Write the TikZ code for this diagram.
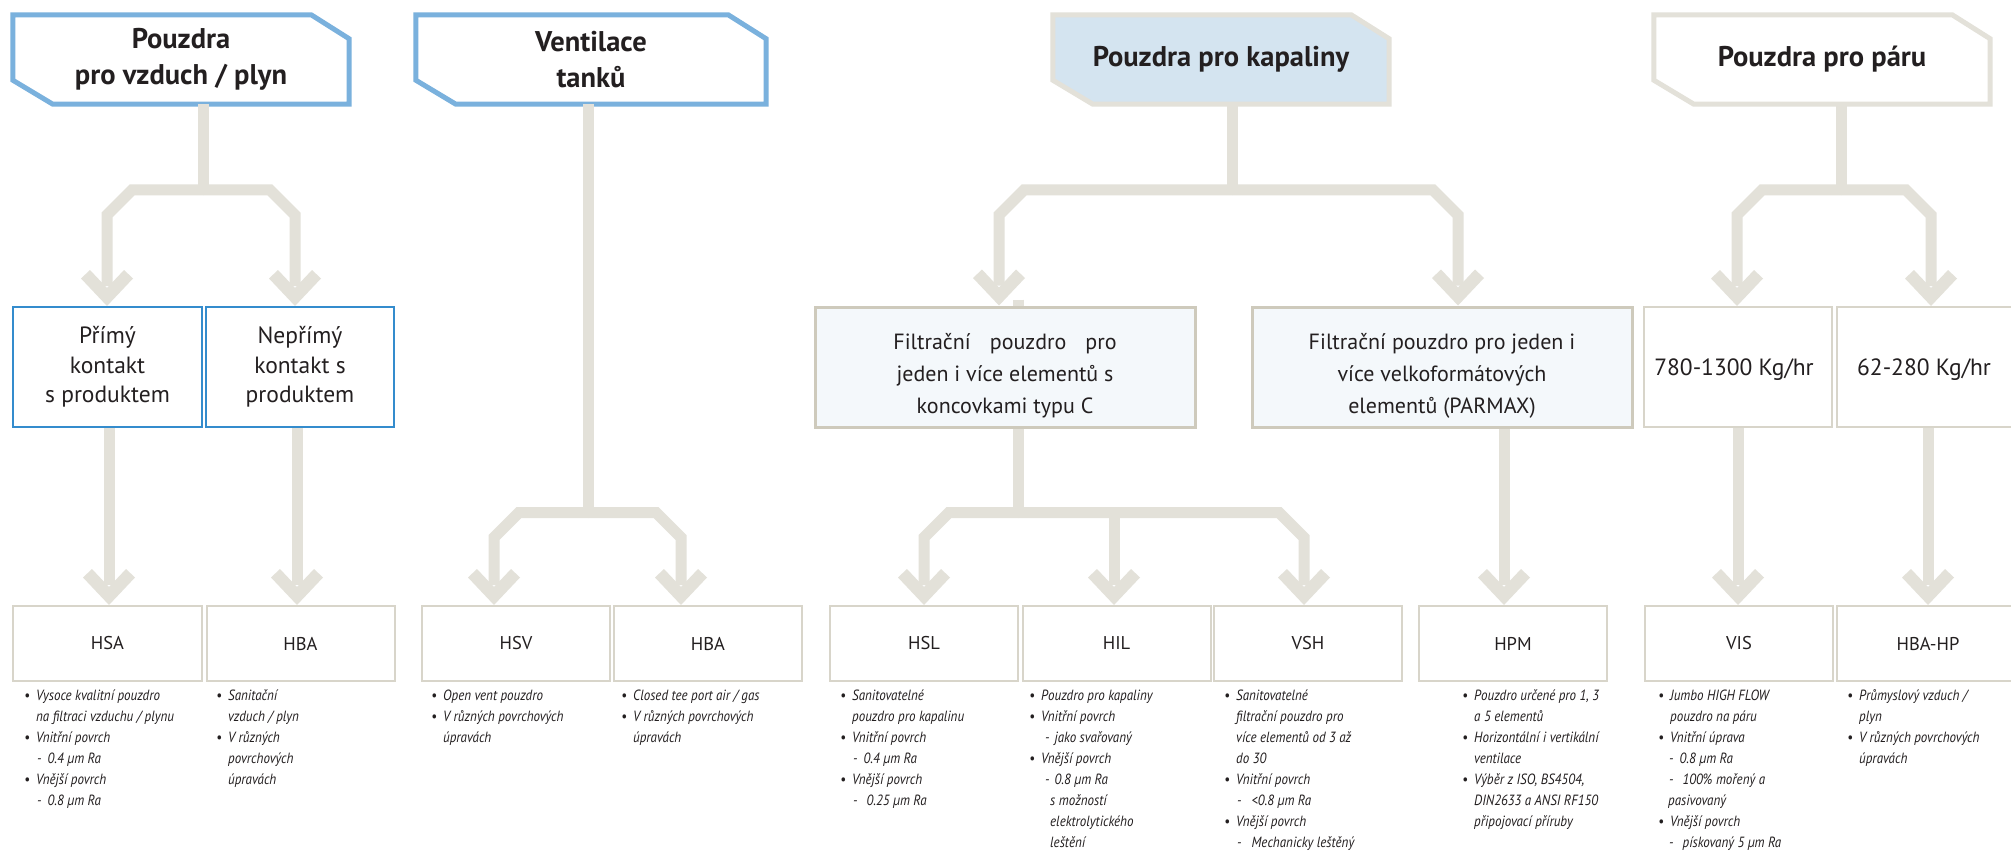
\documentclass[tikz,border=0pt]{standalone}
\usepackage{fontspec}
\setmainfont{PT Sans}
\newfontfamily\hdfont{PT Sans}
\newfontfamily\lsfont{PT Sans}[FakeStretch=0.88]
\usetikzlibrary{calc,backgrounds}

\definecolor{cgray}{RGB}{227,225,217}
\definecolor{hblue}{RGB}{122,177,221}
\definecolor{bblue}{RGB}{52,140,205}
\definecolor{beige}{RGB}{216,213,202}
\definecolor{beigedk}{RGB}{206,202,188}
\definecolor{hfill}{RGB}{212,228,240}
\definecolor{pfill}{RGB}{244,248,251}
\definecolor{ink}{RGB}{35,31,32}

% list helpers: bullet line, continuation line, dash sub-item
\newcommand\bl[1]{\strut\makebox[12pt][l]{\textbullet}#1}
\newcommand\cn[1]{\strut\hspace*{12pt}#1}
\newcommand\ds[1]{\strut\hspace*{13pt}-\hspace*{6pt}#1}
% multi-line text lowered inside its box
\newcommand\lowered[2]{\raisebox{-#1}[\height][\depth]{\begin{tabular}{@{}c@{}}#2\end{tabular}}}

\tikzset{
  connline/.style={draw=cgray, line width=11pt, line join=miter},
  hdtext/.style={inner sep=0pt, minimum width=336pt, minimum height=89pt, align=center,
    text=ink, font=\hdfont\bfseries\fontsize{28.5pt}{36pt}\selectfont},
  hline/.style={line width=5pt, line join=miter},
  midbox/.style={draw=bblue, line width=2pt, fill=white, inner sep=0pt, minimum height=120pt,
    minimum width=188pt, align=center, text=ink, font=\fontsize{23.5pt}{29.5pt}\selectfont},
  filbox/.style={midbox, draw=beigedk, line width=3pt, fill=pfill, minimum width=380pt,
    font=\fontsize{22pt}{32pt}\selectfont},
  rngbox/.style={midbox, draw=beige},
  prod/.style={draw=beige, line width=2pt, fill=white, inner sep=0pt, minimum height=75pt,
    minimum width=188pt, text=ink, font=\fontsize{18.5pt}{22pt}\selectfont},
  lst/.style={anchor=north west, inner sep=0pt, align=left, text=ink,
    font=\lsfont\itshape\fontsize{14.8pt}{21pt}\selectfont},
  ahd/.pic={\fill[fill=cgray] (0,0) -- (-26,-27.5) -- (-17,-36) -- (0,-18) -- (17,-36) -- (26,-27.5) -- cycle;}
}

% branch arm: junction #1, arrow tip #2, bar corner offset #3
\newcommand\arm[3]{%
  \draw[connline] (#1) -- ($(#2|-#1)+(#3,0)$) -- ($(#2|-#1)+(0,25)$) -- ($(#2)+(0,-20)$);
  \pic at (#2) {ahd};}
% straight arrow from the bottom of node #1 to tip #2
\newcommand\drop[2]{%
  \draw[connline] (#1.south -| #2) -- ($(#2)+(0,-20)$);
  \pic at (#2) {ahd};}

\begin{document}
\begin{tikzpicture}[x=1pt,y=-1pt]
\useasboundingbox (0,0) rectangle (2011,853);

% ---------- headers ----------
\node[hdtext] (h1) at (181,59.5) {Pouzdra\\pro vzduch / plyn};
\node[hdtext, minimum width=350pt] (h2) at (591,59.5) {Ventilace\\tanků};
\node[hdtext] (h3) at (1221,59.5) {Pouzdra pro kapaliny};
\node[hdtext] (h4) at (1822,59.5) {Pouzdra pro páru};

% ---------- second row ----------
\node[midbox, minimum width=189pt] (pm) at (107.5,367) {Přímý\\kontakt\\s produktem};
\node[midbox] (npm) at (300,367) {Nepřímý\\kontakt s\\produktem};
\node[filbox] (f1) at (1005,367) {\lowered{8pt}{Filtrační\hspace{0.6em} pouzdro\hspace{0.6em} pro\\jeden i více elementů s\\koncovkami typu C}};
\node[filbox] (f2) at (1442,367) {\lowered{8pt}{Filtrační pouzdro pro jeden i\\více velkoformátových\\elementů (PARMAX)}};
\node[rngbox] (s1) at (1738,367) {\raisebox{-3pt}[\height][\depth]{\hspace*{-8pt}780-1300 Kg/hr}};
\node[rngbox] (s2) at (1931,367) {\raisebox{-3pt}[\height][\depth]{\hspace*{-14pt}62-280 Kg/hr}};

% ---------- product row ----------
\node[prod, minimum width=189pt] (hsa) at (107.5,643.5) {HSA};
\node[prod] (hba) at (300.5,643.5) {HBA};
\node[prod] (hsv) at (516,643.5) {HSV};
\node[prod] (hbb) at (708,643.5) {HBA};
\node[prod] (hsl) at (924,643.5) {HSL};
\node[prod] (hil) at (1116.5,643.5) {HIL};
\node[prod] (vsh) at (1308,643.5) {VSH};
\node[prod] (hpm) at (1513,643.5) {HPM};
\node[prod] (vis) at (1739,643.5) {VIS};
\node[prod] (hbp) at (1931,643.5) {\hspace*{-6pt}HBA-HP};

% ---------- arrow tips and junctions ----------
\coordinate (tpm) at ($(pm.north)+(-0.5,0)$);
\coordinate (tnpm) at ($(npm.north)+(-5,0)$);
\coordinate (tf1) at ($(f1.north)+(-6,0)$);
\coordinate (tf2) at ($(f2.north)+(16,0)$);
\coordinate (ts1) at ($(s1.north)+(-1,0)$);
\coordinate (ts2) at ($(s2.north)+(0,0)$);
\coordinate (thsa) at ($(hsa.north)+(1.5,0)$);
\coordinate (thba) at ($(hba.north)+(-3.5,0)$);
\coordinate (thsv) at ($(hsv.north)+(-22,0)$);
\coordinate (thbb) at ($(hbb.north)+(-27,0)$);
\coordinate (thsl) at ($(hsl.north)+(0,0)$);
\coordinate (thil) at ($(hil.north)+(-2.5,0)$);
\coordinate (tvsh) at ($(vsh.north)+(-4,0)$);
\coordinate (thpm) at ($(hpm.north)+(-9,0)$);
\coordinate (tvis) at ($(vis.north)+(-1,0)$);
\coordinate (thbp) at ($(hbp.north)+(-3,0)$);

\coordinate (j1) at (203,190);
\coordinate (j2) at (588,512.5);
\coordinate (j3) at (1232,190);
\coordinate (j4) at (1841,190);
\coordinate (j5) at (1018,512.5);

\begin{scope}[on background layer]
\fill[white] (0,0) rectangle (2011,853);
% header outlines with cut corners
\foreach \h/\c/\f in {h1/hblue/white, h2/hblue/white, h3/cgray/hfill, h4/cgray/white}{
  \draw[hline, draw=\c, fill=\f] (\h.north west) -- ($(\h.north east)+(-38,0)$)
    -- ($(\h.north east)+(0,24)$) -- (\h.south east) -- ($(\h.south west)+(40,0)$)
    -- ($(\h.south west)+(0,-24)$) -- cycle;
}
% ---------- connectors ----------
\draw[connline] (j1|-h1.south) -- (j1);
\arm{j1}{tpm}{25} \arm{j1}{tnpm}{-25}
\draw[connline] (j2|-h2.south) -- (j2);
\arm{j2}{thsv}{25} \arm{j2}{thbb}{-25}
\draw[connline] (j3|-h3.south) -- (j3);
\arm{j3}{tf1}{25} \arm{j3}{tf2}{-25}
\draw[connline] (j4|-h4.south) -- (j4);
\arm{j4}{ts1}{25} \arm{j4}{ts2}{-25}
\draw[connline] ($(j5|-f1.north)+(0,-6)$) -- (j5);
\arm{j5}{thsl}{25} \arm{j5}{tvsh}{-25}
\draw[connline] (thil|-j5) -- ($(thil)+(0,-20)$);
\pic at (thil) {ahd};
\drop{pm}{thsa}
\drop{npm}{thba}
\drop{f2}{thpm}
\drop{s1}{tvis}
\drop{s2}{thbp}
\end{scope}

% ---------- descriptions ----------
\node[lst] (dhsa) at (24,686) {\bl{Vysoce kvalitní pouzdro}\\\cn{na filtraci vzduchu / plynu}\\
  \bl{Vnitřní povrch}\\\ds{0.4 µm Ra}\\\bl{Vnější povrch}\\\ds{0.8 µm Ra}};
\node[lst] (dhba) at (216,686) {\bl{Sanitační}\\\cn{vzduch / plyn}\\\bl{V různých}\\
  \cn{povrchových}\\\cn{úpravách}};
\node[lst] (dhsv) at (431,686) {\bl{Open vent pouzdro}\\\bl{V různých povrchových}\\\cn{úpravách}};
\node[lst] (dhbb) at (621,686) {\bl{Closed tee port air / gas}\\\bl{V různých povrchových}\\\cn{úpravách}};
\node[lst] (dhsl) at (840,686) {\bl{Sanitovatelné}\\\cn{pouzdro pro kapalinu}\\\bl{Vnitřní povrch}\\
  \ds{0.4 µm Ra}\\\bl{Vnější povrch}\\\ds{\hspace*{3pt}0.25 µm Ra}};
\node[lst] (dhil) at (1029,686) {\bl{Pouzdro pro kapaliny}\\\bl{Vnitřní povrch}\\
  \strut\hspace*{16pt}-\hspace*{5pt}jako svařovaný\\\bl{Vnější povrch}\\
  \strut\hspace*{16pt}-\hspace*{5pt}0.8 µm Ra\\\strut\hspace*{21pt}s možností\\
  \strut\hspace*{21pt}elektrolytického\\\strut\hspace*{21pt}leštění};
\node[lst] (dvsh) at (1224,686) {\bl{Sanitovatelné}\\\cn{filtrační pouzdro pro}\\
  \cn{více elementů od 3 až}\\\cn{do 30}\\\bl{Vnitřní povrch}\\\ds{\hspace*{4pt}<0.8 µm Ra}\\
  \bl{Vnější povrch}\\\ds{\hspace*{4pt}Mechanicky leštěný}};
\node[lst] (dhpm) at (1462,686) {\bl{Pouzdro určené pro 1, 3}\\\cn{a 5 elementů}\\
  \bl{Horizontální i vertikální}\\\cn{ventilace}\\\bl{Výběr z ISO, BS4504,}\\
  \cn{DIN2633 a ANSI RF150}\\\cn{připojovací příruby}};
\node[lst] (dvis) at (1658,686) {\bl{Jumbo HIGH FLOW}\\\cn{pouzdro na páru}\\\bl{Vnitřní úprava}\\
  \strut\hspace*{11pt}-\hspace*{6pt}0.8 µm Ra\\\strut\hspace*{11pt}-\hspace*{9pt}100\% mořený a\\
  \strut\hspace*{10pt}pasivovaný\\\bl{Vnější povrch}\\\strut\hspace*{11pt}-\hspace*{9pt}pískovaný 5 µm Ra};
\node[lst] (dhbp) at (1847,686) {\bl{Průmyslový vzduch /}\\\cn{plyn}\\\bl{V různých povrchových}\\\cn{úpravách}};
\end{tikzpicture}
\end{document}
